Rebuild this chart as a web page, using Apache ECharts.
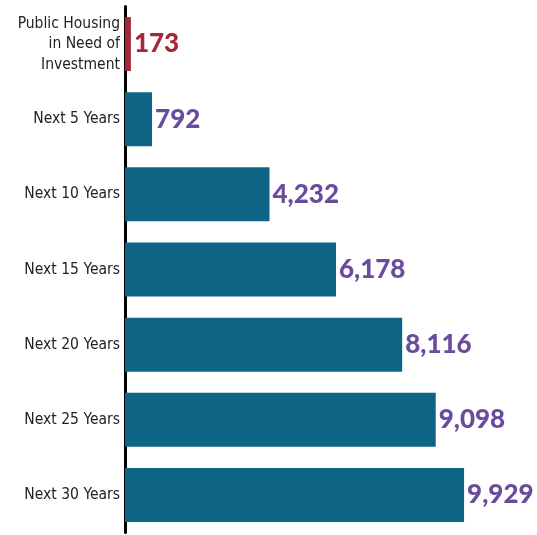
<!DOCTYPE html>
<html>
<head>
<meta charset="utf-8">
<script src="https://cdn.jsdelivr.net/npm/echarts@6/dist/echarts.min.js"></script>
<style>
  html, body { margin: 0; padding: 0; background: #fff; }
  #chart { width: 537px; height: 535px; }
</style>
</head>
<body>
<div id="chart"></div>
<script>
// categories top to bottom
const categories = [
  'Public Housing\nin Need of\nInvestment',
  'Next 5 Years',
  'Next 10 Years',
  'Next 15 Years',
  'Next 20 Years',
  'Next 25 Years',
  'Next 30 Years'
];
const values = [173, 792, 4232, 6178, 8116, 9098, 9929];

const barColor = '#0e6485';
const firstColor = '#a4283a';
const labelColor = '#6a4c9e';

const chart = echarts.init(document.getElementById('chart'));

chart.setOption({
  animation: false,
  grid: { left: 125, top: 6.5, width: 341.5, bottom: 2.5 },
  xAxis: {
    type: 'value',
    min: 0,
    max: 10000,
    show: false
  },
  yAxis: {
    type: 'category',
    inverse: true,
    data: categories,
    axisLine: { show: true, lineStyle: { color: '#000', width: 3 } },
    axisTick: { show: false },
    axisLabel: {
      margin: 5,
      color: '#222',
      fontSize: 15.5,
      lineHeight: 20.5,
      fontFamily: 'DejaVu Sans Condensed, sans-serif'
    }
  },
  series: [{
    type: 'bar',
    barWidth: 54,
    data: values.map((v, i) => ({
      value: v,
      itemStyle: { color: i === 0 ? firstColor : barColor },
      label: { color: i === 0 ? firstColor : labelColor }
    })),
    label: {
      show: true,
      position: 'right',
      distance: 3,
      fontSize: 26,
      fontWeight: 900,
      fontFamily: 'Lato, sans-serif',
      formatter: p => p.value.toLocaleString('en-US')
    }
  }]
});
</script>
</body>
</html>
